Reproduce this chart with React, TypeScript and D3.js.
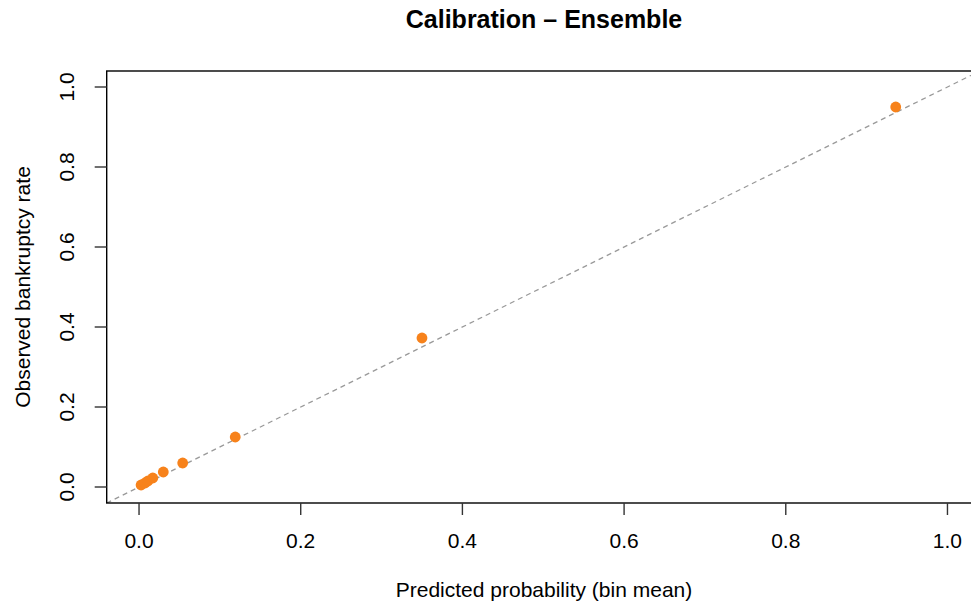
import React from "react";
import * as d3 from "d3";

const predicted = [0.0025, 0.0074, 0.011, 0.017, 0.030, 0.054, 0.119, 0.350, 0.936];
const observed = [0.005, 0.01, 0.015, 0.0225, 0.0375, 0.06, 0.125, 0.3725, 0.95];
const xTicks = [0, 0.2, 0.4, 0.6, 0.8, 1.0];
const yTicks = [0, 0.2, 0.4, 0.6, 0.8, 1.0];
const title = "Calibration \u2013 Ensemble";
const xLabel = "Predicted probability (bin mean)";
const yLabel = "Observed bankruptcy rate";

const W = 971;
const H = 603;
const font = "'Liberation Sans', Arial, Helvetica, sans-serif";
const fs = 21;

export default function App() {
  const x = d3.scaleLinear().domain([-0.04, 1.04]).range([106.7, 979.8]);
  const y = d3.scaleLinear().domain([-0.04, 1.04]).range([503, 71]);
  const left = x(-0.04), right = x(1.04), top = y(1.04), bottom = y(-0.04);
  const diag = d3.line<number>().x((d) => x(d)).y((d) => y(d));
  return (
    <svg width={W} height={H} style={{ position: "absolute", left: 0, top: 0, background: "#fff" }}>
      <defs>
        <clipPath id="plotclip">
          <rect x={left} y={top} width={right - left} height={bottom - top} />
        </clipPath>
      </defs>
      <text x={544} y={28} textAnchor="middle" fontFamily={font} fontWeight="bold" fontSize={25}>{title}</text>
      <path d={diag([-0.1, 1.1]) || ""} stroke="#999" strokeWidth={1.3} strokeDasharray="5,4" fill="none" clipPath="url(#plotclip)" />
      {predicted.map((p, i) => (
        <circle key={i} cx={x(p)} cy={y(observed[i])} r={5.4} fill="#f7821b" />
      ))}
      <rect x={left} y={top} width={right - left} height={bottom - top} fill="none" stroke="#000" strokeWidth={1.4} />
      {xTicks.map((t) => (
        <g key={"x" + t}>
          <line x1={x(t)} x2={x(t)} y1={bottom} y2={bottom + 12} stroke="#333" strokeWidth={1.4} />
          <text x={x(t)} y={548} textAnchor="middle" fontFamily={font} fontSize={fs}>{t.toFixed(1)}</text>
        </g>
      ))}
      {yTicks.map((t) => (
        <g key={"y" + t}>
          <line x1={left - 12} x2={left} y1={y(t)} y2={y(t)} stroke="#333" strokeWidth={1.4} />
          <text transform={`translate(74,${y(t)}) rotate(-90)`} textAnchor="middle" fontFamily={font} fontSize={fs}>{t.toFixed(1)}</text>
        </g>
      ))}
      <text x={544} y={597} textAnchor="middle" fontFamily={font} fontSize={fs}>{xLabel}</text>
      <text transform={`translate(30,${(top + bottom) / 2}) rotate(-90)`} textAnchor="middle" fontFamily={font} fontSize={fs}>{yLabel}</text>
    </svg>
  );
}
